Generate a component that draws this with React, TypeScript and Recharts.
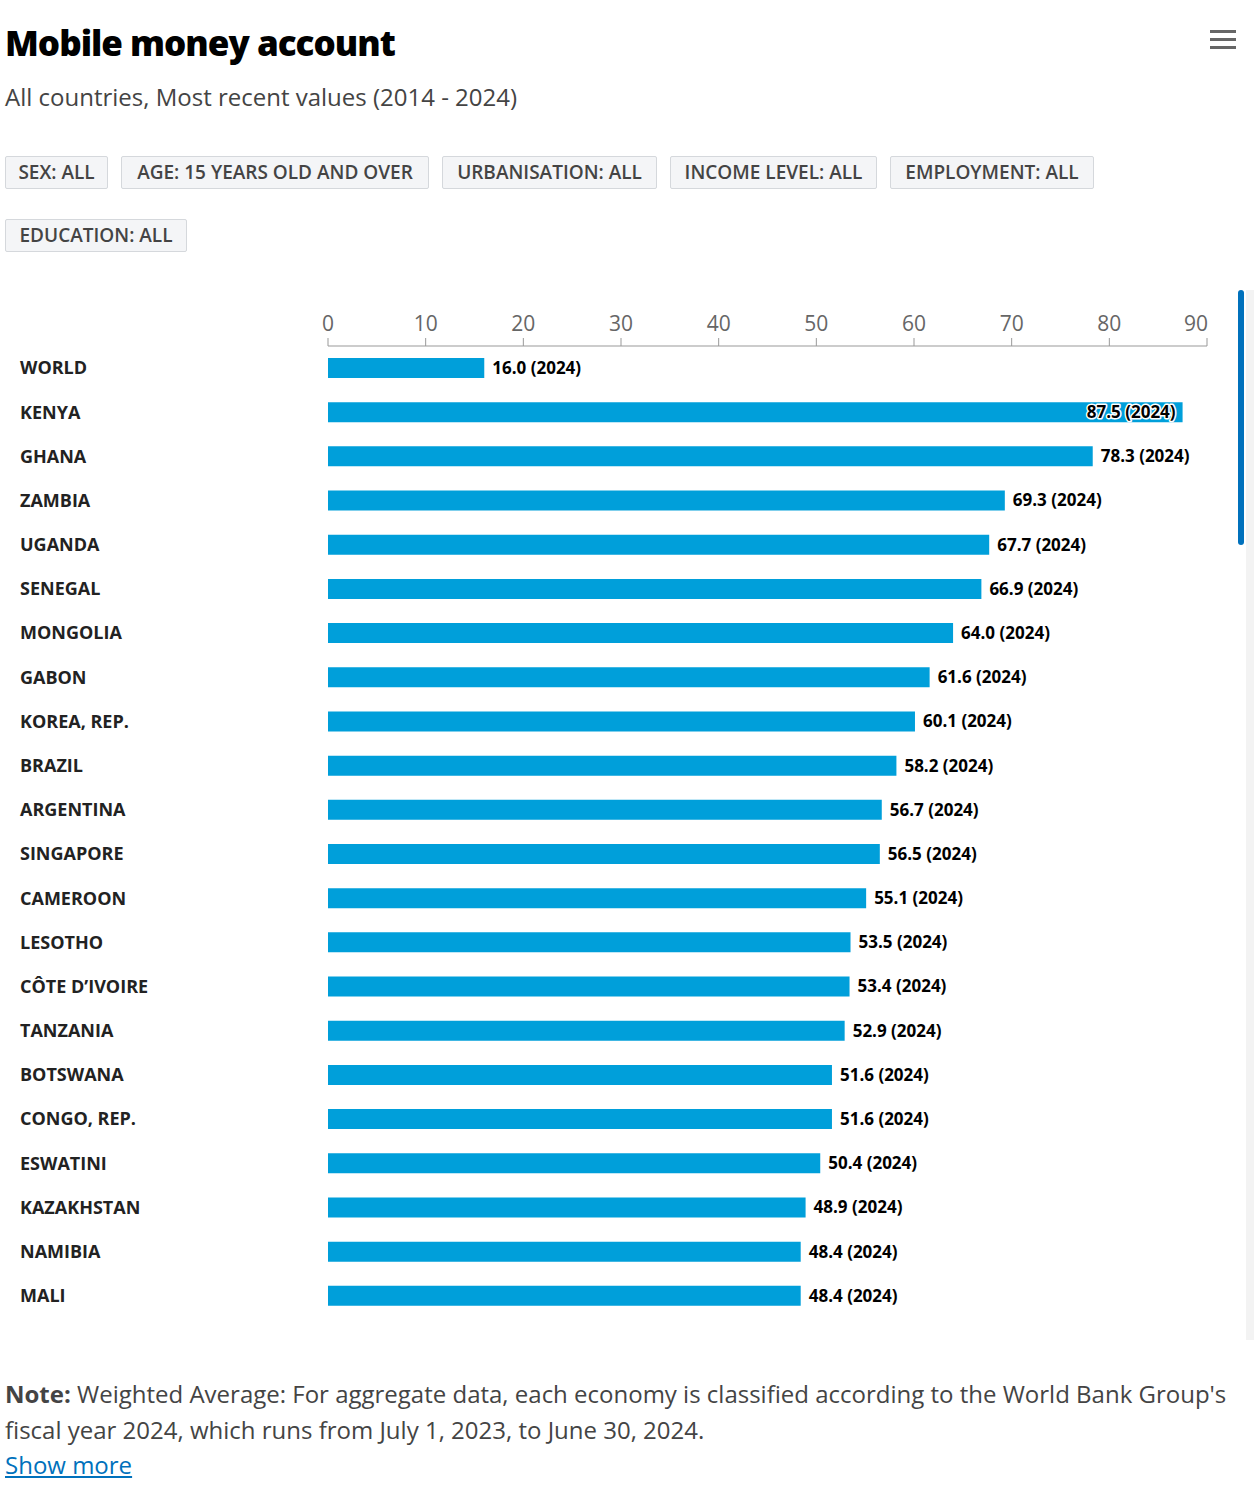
import React from 'react';
import { BarChart, Bar, XAxis, YAxis, LabelList } from 'recharts';

const countries = [
  'WORLD', 'KENYA', 'GHANA', 'ZAMBIA', 'UGANDA', 'SENEGAL', 'MONGOLIA', 'GABON',
  'KOREA, REP.', 'BRAZIL', 'ARGENTINA', 'SINGAPORE', 'CAMEROON', 'LESOTHO',
  'CÔTE D\u2019IVOIRE', 'TANZANIA', 'BOTSWANA', 'CONGO, REP.', 'ESWATINI',
  'KAZAKHSTAN', 'NAMIBIA', 'MALI',
];
const values = [
  16.0, 87.5, 78.3, 69.3, 67.7, 66.9, 64.0, 61.6, 60.1, 58.2, 56.7, 56.5, 55.1,
  53.5, 53.4, 52.9, 51.6, 51.6, 50.4, 48.9, 48.4, 48.4,
];
const years = countries.map(() => 2024);
const xTicks = [0, 10, 20, 30, 40, 50, 60, 70, 80, 90];
const filters = [
  'SEX: ALL', 'AGE: 15 YEARS OLD AND OVER', 'URBANISATION: ALL',
  'INCOME LEVEL: ALL', 'EMPLOYMENT: ALL', 'EDUCATION: ALL',
];
// chip box widths, px
const chipWidths = [103, 308, 215, 207, 204, 182];

const data = countries.map((name, i) => ({ name, value: values[i], year: years[i] }));

const FONT = '"Open Sans", "Noto Sans", sans-serif';

const CountryTick = (props: any) => {
  const { y, payload } = props;
  return (
    <text x={20} y={y} dy="0.35em" textAnchor="start" fill="#222" fontSize={18} fontWeight={700} fontFamily={FONT}>
      {payload.value}
    </text>
  );
};

const ValueTick = (props: any) => {
  const { x, y, payload } = props;
  const last = payload.value === xTicks[xTicks.length - 1];
  return (
    <text
      x={last ? x + 1 : x}
      y={y}
      textAnchor={last ? 'end' : 'middle'}
      fill="#666"
      fontSize={21}
      fontFamily={FONT}
    >
      {payload.value}
    </text>
  );
};

const ValueLabel = (props: any) => {
  const { x, y, width, height, index } = props;
  const d = data[index];
  const text = `${d.value.toFixed(1)} (${d.year})`;
  const inside = d.value > 80;
  const cy = y + height / 2;
  if (inside) {
    return (
      <text
        x={x + width - 7}
        y={cy}
        dy="0.35em"
        textAnchor="end"
        fontSize={17}
        fontWeight={700}
        fontFamily={FONT}
        fill="#000"
        stroke="#fff"
        strokeWidth={3}
        strokeLinejoin="round"
        style={{ paintOrder: 'stroke' }}
      >
        {text}
      </text>
    );
  }
  return (
    <text x={x + width + 8} y={cy} dy="0.35em" textAnchor="start" fontSize={17} fontWeight={700} fontFamily={FONT} fill="#000">
      {text}
    </text>
  );
};

const chipStyle: React.CSSProperties = {
  display: 'inline-block',
  boxSizing: 'border-box',
  height: 33,
  lineHeight: '31px',
  textAlign: 'center',
  border: '1px solid #d5d8dc',
  borderRadius: 2,
  background: '#f4f5f7',
  color: '#444',
  fontSize: 19,
  fontWeight: 600,
  marginRight: 13,
  marginBottom: 30,
  whiteSpace: 'nowrap',
};

export default function App() {
  return (
    <div style={{ position: 'absolute', left: 0, top: 0, width: 1254, height: 1492, background: '#fff', fontFamily: FONT, overflow: 'hidden' }}>
      <div style={{ position: 'absolute', left: 5, top: 19, fontSize: 35, fontWeight: 800, color: '#000', letterSpacing: -1 }}>
        Mobile money account
      </div>
      <div style={{ position: 'absolute', left: 1210, top: 30, width: 26 }}>
        {[0, 1, 2].map((i) => (
          <div key={i} style={{ height: 3, background: '#666', marginBottom: 5 }} />
        ))}
      </div>
      <div style={{ position: 'absolute', left: 5, top: 80, fontSize: 24, color: '#444' }}>
        All countries, Most recent values (2014 - 2024)
      </div>
      <div style={{ position: 'absolute', left: 5, top: 156, width: 1120, fontSize: 0 }}>
        {filters.map((f, i) => (
          <span key={f} style={{ ...chipStyle, width: chipWidths[i] }}>{f}</span>
        ))}
      </div>

      <div style={{ position: 'absolute', left: 0, top: 290 }}>
        <BarChart
          width={1254}
          height={1040}
          data={data}
          layout="vertical"
          margin={{ top: 26, right: 47, bottom: 12, left: 0 }}
        >
          <XAxis
            type="number"
            orientation="top"
            domain={[0, 90]}
            ticks={xTicks}
            interval={0}
            height={30}
            tickSize={8}
            tickMargin={7}
            stroke="#999"
            tick={<ValueTick />}
          />
          <YAxis
            type="category"
            dataKey="name"
            width={328}
            axisLine={false}
            tickLine={false}
            interval={0}
            tick={<CountryTick />}
          />
          <Bar dataKey="value" fill="#009fda" barSize={20} isAnimationActive={false}>
            <LabelList dataKey="value" content={<ValueLabel />} />
          </Bar>
        </BarChart>
      </div>

      <div style={{ position: 'absolute', left: 1246, top: 290, width: 8, height: 1050, background: '#f3f3f3' }} />
      <div style={{ position: 'absolute', left: 1238, top: 290, width: 6, height: 255, background: '#0071bc', borderRadius: 3 }} />

      <div style={{ position: 'absolute', left: 5, top: 1376, width: 1240, fontSize: 24, lineHeight: '36px', color: '#444' }}>
        <span style={{ fontWeight: 700 }}>Note:</span> Weighted Average: For aggregate data, each economy is classified according to the World Bank Group's fiscal year 2024, which runs from July 1, 2023, to June 30, 2024.
      </div>
      <div style={{ position: 'absolute', left: 5, top: 1448, fontSize: 24, color: '#0071bc', textDecoration: 'underline' }}>
        Show more
      </div>
    </div>
  );
}
